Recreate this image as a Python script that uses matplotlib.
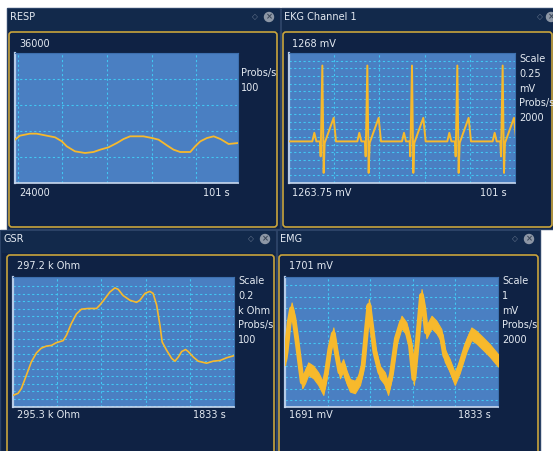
import matplotlib.pyplot as plt
from matplotlib.patches import Rectangle, FancyBboxPatch, Circle

W, H = 553, 451

NAVY = "#0f2244"
TITLE_BG = "#12294b"
GOLD = "#c9a43c"
PLOT_BG = "#4a7fc2"
GRID = "#42c6f2"
TRACE = "#f7b92c"
TXT = "#e4eaf2"

# RESP: 10 s window ending at 101 s
resp_t = [0.0, 0.22, 0.67, 0.97, 1.42, 1.80, 2.10, 2.32, 2.69, 3.14, 3.52, 3.82, 4.19, 4.57, 4.87,
          5.16, 5.76, 6.14, 6.44, 6.81, 7.11, 7.41, 7.86, 8.08, 8.31, 8.61, 8.91, 9.21, 9.58, 10.0]
resp_v = [28000, 28369, 28554, 28554, 28369, 28215, 27846, 27385, 26923, 26769, 26862, 27077, 27292,
          27692, 28062, 28308, 28308, 28154, 28000, 27477, 27077, 26862, 26862, 27385, 27846, 28154,
          28308, 28062, 27600, 27692]

# EKG: R peak times and one beat (offsets from R peak in s, mV)
ekg_r_peaks = [1.475, 3.466, 5.442, 7.448, 9.454]
ekg_beat_dt = [-0.443, -0.354, -0.265, -0.103, -0.074, 0.0, 0.059, 0.103, 0.501, 0.605]
ekg_beat_v = [1265.11, 1265.39, 1265.11, 1265.11, 1264.62, 1267.59, 1264.08, 1265.06, 1265.88, 1265.11]
ekg_base = 1265.11

# GSR: 10 s window ending at 1833 s, k Ohm
gsr_t = [0.0, 0.23, 0.38, 0.60, 0.83, 1.06, 1.28, 1.51, 1.74, 1.96, 2.27, 2.42, 2.64, 2.87, 3.10, 3.40,
         3.78, 3.93, 4.15, 4.38, 4.61, 4.76, 4.98, 5.29, 5.59, 5.74, 5.97, 6.19, 6.34, 6.50, 6.65, 6.75,
         6.95, 7.18, 7.33, 7.48, 7.63, 7.81, 7.93, 8.16, 8.38, 8.76, 9.06, 9.37, 9.67, 10.0]
gsr_v = [295.47, 295.50, 295.57, 295.76, 295.96, 296.09, 296.16, 296.19, 296.20, 296.24, 296.27,
         296.35, 296.52, 296.66, 296.73, 296.74, 296.74, 296.79, 296.88, 296.98, 297.04, 297.02,
         296.93, 296.86, 296.83, 296.86, 296.96, 296.99, 296.96, 296.79, 296.49, 296.25, 296.13,
         296.01, 295.97, 296.03, 296.11, 296.14, 296.11, 296.03, 295.97, 295.94, 295.97, 295.98,
         296.02, 296.05]

# EMG: 10 s window ending at 1833 s, mV (centre of the noisy band)
emg_t = [0.0, 0.05, 0.20, 0.31, 0.42, 0.55, 0.67, 0.81, 0.94, 1.09, 1.33, 1.56, 1.80, 1.95, 2.11, 2.27,
         2.42, 2.58, 2.73, 2.89, 3.05, 3.28, 3.52, 3.67, 3.83, 3.94, 4.06, 4.22, 4.45, 4.69, 4.84, 5.00,
         5.23, 5.47, 5.70, 5.89, 6.05, 6.17, 6.30, 6.41, 6.52, 6.64, 6.88, 7.11, 7.34, 7.50, 7.73, 7.97,
         8.20, 8.52, 8.75, 8.98, 9.30, 9.61, 10.0]
emg_v = [1694.7, 1695.23, 1697.54, 1698.56, 1697.79, 1696.26, 1694.72, 1692.92, 1693.31, 1693.95,
         1693.69, 1693.18, 1692.41, 1693.69, 1695.49, 1696.64, 1695.10, 1693.69, 1694.21, 1693.31,
         1692.67, 1692.54, 1693.18, 1694.21, 1697.03, 1698.82, 1697.28, 1695.23, 1693.69, 1693.18,
         1692.41, 1693.56, 1696.26, 1697.54, 1697.03, 1695.74, 1693.18, 1695.23, 1697.54, 1699.59,
         1698.56, 1696.77, 1697.54, 1697.15, 1696.51, 1694.97, 1694.21, 1693.18, 1694.08, 1695.74,
         1696.64, 1696.38, 1695.87, 1695.36, 1694.59]
emg_spread = 0.48


def fig_rect(x0, y0, x1, y1):
    return [x0 / W, 1 - y1 / H, (x1 - x0) / W, (y1 - y0) / H]


fig = plt.figure(figsize=(W / 100, H / 100), dpi=100)
bg = fig.add_axes([0, 0, 1, 1])
bg.set_xlim(0, W)
bg.set_ylim(H, 0)
bg.axis("off")
bg.add_patch(Rectangle((0, 0), W, H, color="white"))


def panel(box, title, inner, icons):
    x0, y0, x1, y1 = box
    bg.add_patch(Rectangle((x0, y0), x1 - x0, y1 - y0, facecolor=NAVY, edgecolor="#2b4266", lw=1))
    bg.add_patch(Rectangle((x0 + 1, y0 + 1), x1 - x0 - 2, 22, facecolor=TITLE_BG, lw=0))
    bx0, by0, bx1, by1 = inner
    bg.add_patch(FancyBboxPatch((bx0, by0), bx1 - bx0, by1 - by0,
                                boxstyle="round,pad=0,rounding_size=3",
                                facecolor=NAVY, edgecolor=GOLD, lw=1.2))
    bg.text(x0 + 3, y0 + 9.5, title, color=TXT, fontsize=7, va="center", ha="left")
    dx, cx = icons
    bg.text(dx, y0 + 9, "\u25c7", color="#6d7c94", fontsize=5.5, ha="center", va="center")
    bg.add_patch(Circle((cx, y0 + 9), 4.5, color="#8d97a6"))
    bg.text(cx, y0 + 9, "\u00d7", color="#3a4658", fontsize=6, ha="center", va="center",
            fontweight="bold")


def scope(rect, ylim, vgrid, hgrid):
    ax = fig.add_axes(fig_rect(*rect))
    ax.set_facecolor(PLOT_BG)
    ax.set_xlim(0, 10)
    ax.set_ylim(*ylim)
    ax.set_xticks([])
    ax.set_yticks([])
    for s in ["top", "right"]:
        ax.spines[s].set_color("#3d6fae")
        ax.spines[s].set_linewidth(0.8)
    ax.spines["left"].set_color("#b5cbe8")
    ax.spines["left"].set_linewidth(1.6)
    ax.spines["bottom"].set_color("#c9d8ee")
    ax.spines["bottom"].set_linewidth(1.2)
    for f in vgrid:
        ax.plot([f, f], [0, 1], transform=ax.transAxes, color=GRID, lw=0.8,
                ls=(0, (2, 2.2)), zorder=1)
    for f in hgrid:
        ax.plot([0, 1], [f, f], transform=ax.transAxes, color=GRID, lw=0.8,
                ls=(0, (2, 2.2)), zorder=1)
    return ax


def labels(top, bottom, right_time, xl, yt, yb, xr, side, xs, ys):
    bg.text(xl, yt, top, color=TXT, fontsize=7, va="center")
    bg.text(xl, yb, bottom, color=TXT, fontsize=7, va="center")
    bg.text(xr, yb, right_time, color=TXT, fontsize=7, va="center", ha="right")
    for i, s in enumerate(side):
        bg.text(xs, ys + i * 14.8, s, color=TXT, fontsize=7, va="center")


# panels
panel((7, 8, 280, 229), "RESP", (9, 32, 277, 227), (255, 269))
panel((281, 8, 553, 229), "EKG Channel 1", (283, 32, 552, 227), (540, 551))
panel((0, 230, 276, 451), "GSR", (7, 255, 274, 458), (251, 265))
panel((277, 230, 540, 451), "EMG", (279, 255, 538, 458), (515, 529))

fifths = [0.2, 0.4, 0.6, 0.8]
seventeenths = [k / 17 for k in range(1, 17)]

# RESP
ax = scope((15, 53, 238, 183), (24000, 36000), [0.013 + 0.2 * k for k in range(5)], fifths)
ax.plot(resp_t, resp_v, color=TRACE, lw=1.3, zorder=3)
labels("36000", "24000", "101 s", 19, 44, 193, 230, ["Probs/s", "100"], 241, 73)

# EKG
ekg_t = [0.0]
ekg_v = [ekg_base]
for r in ekg_r_peaks:
    for dt, v in zip(ekg_beat_dt, ekg_beat_v):
        ekg_t.append(r + dt)
        ekg_v.append(v)
ax = scope((289, 53, 515, 183), (1263.75, 1268), fifths, seventeenths)
ax.plot(ekg_t, ekg_v, color=TRACE, lw=1.4, zorder=3)
labels("1268 mV", "1263.75 mV", "101 s", 292, 44, 193, 507,
       ["Scale", "0.25", "mV", "Probs/s", "2000"], 519, 59)

# GSR
ax = scope((13, 277, 234, 407), (295.3, 297.2), fifths, [1 - (9 + 7.5 * k) / 130 for k in range(17)])
ax.plot(gsr_t, gsr_v, color=TRACE, lw=1.2, zorder=3)
labels("297.2 k Ohm", "295.3 k Ohm", "1833 s", 17, 266, 415, 226,
       ["Scale", "0.2", "k Ohm", "Probs/s", "100"], 238, 281)

# EMG
ax = scope((285, 277, 498, 407), (1691, 1701), fifths, [1 - (8 + 11.5 * k) / 130 for k in range(11)])
lo = [v - emg_spread for v in emg_v]
hi = [v + emg_spread for v in emg_v]
ax.fill_between(emg_t, lo, hi, color=TRACE, lw=0.8, edgecolor=TRACE, zorder=3)
ax.plot(emg_t, emg_v, color=TRACE, lw=3.5, solid_joinstyle="round", zorder=3)
labels("1701 mV", "1691 mV", "1833 s", 289, 266, 415, 491,
       ["Scale", "1", "mV", "Probs/s", "2000"], 502, 281)

fig.savefig("out.png", dpi=100)
